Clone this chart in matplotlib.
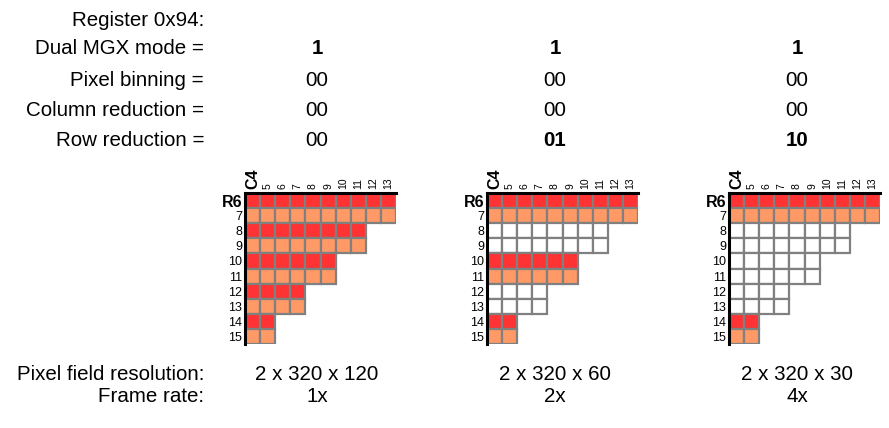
import matplotlib
matplotlib.use("Agg")
import matplotlib.pyplot as plt
from matplotlib.patches import Rectangle

plt.rcParams['font.family'] = ['Liberation Sans', 'DejaVu Sans']

# ---- data ----
row_labels = ["Register 0x94:", "Dual MGX mode =", "Pixel binning =",
              "Column reduction =", "Row reduction ="]
dual_mgx = ["1", "1", "1"]
pixel_binning = ["00", "00", "00"]
column_reduction = ["00", "00", "00"]
row_reduction = ["00", "01", "10"]
row_reduction_bold = [False, True, True]
resolution = ["2 x 320 x 120", "2 x 320 x 60", "2 x 320 x 30"]
frame_rate = ["1x", "2x", "4x"]

grid_rows = [6, 7, 8, 9, 10, 11, 12, 13, 14, 15]
grid_cols = [4, 5, 6, 7, 8, 9, 10, 11, 12, 13]
row_lengths = [10, 10, 8, 8, 6, 6, 4, 4, 2, 2]
# rows read out (True) per panel
active_rows = [
    [True] * 10,
    [True, True, False, False, True, True, False, False, True, True],
    [True, True, False, False, False, False, False, False, True, True],
]

RED = "#FF3333"
ORANGE = "#FF9966"
EDGE = "#808080"

W, H = 889, 428
fig = plt.figure(figsize=(W / 100, H / 100), dpi=100)

def fx(px):
    return px / W

def fy(py):
    return 1 - py / H

FS = 14.8
label_x = 204
text_y = [20, 49, 80, 111, 141]
value_x = [317, 555, 797]

for lbl, ty in zip(row_labels, text_y):
    fig.text(fx(label_x), fy(ty), lbl, ha="right", va="center", fontsize=FS)

for i in range(3):
    fig.text(fx(value_x[i]), fy(text_y[1]), dual_mgx[i], ha="center", va="center",
             fontsize=FS, fontweight="bold")
    fig.text(fx(value_x[i]), fy(text_y[2]), pixel_binning[i], ha="center", va="center",
             fontsize=FS)
    fig.text(fx(value_x[i]), fy(text_y[3]), column_reduction[i], ha="center", va="center",
             fontsize=FS)
    fig.text(fx(value_x[i]), fy(text_y[4]), row_reduction[i], ha="center", va="center",
             fontsize=FS, fontweight="bold" if row_reduction_bold[i] else "normal")

fig.text(fx(label_x), fy(374), "Pixel field resolution:", ha="right", va="center", fontsize=FS)
fig.text(fx(label_x), fy(397), "Frame rate:", ha="right", va="center", fontsize=FS)
for i in range(3):
    fig.text(fx(value_x[i]), fy(374), resolution[i], ha="center", va="center", fontsize=FS)
    fig.text(fx(value_x[i]), fy(397), frame_rate[i], ha="center", va="center", fontsize=FS)

grid_left = [245, 487, 729]
grid_top = 193
cell = 15.1
ncols = len(grid_cols)
nrows = len(grid_rows)

for p in range(3):
    ax = fig.add_axes([fx(grid_left[p]), fy(grid_top + cell * nrows),
                       fx(cell * ncols), (cell * nrows) / H])
    c0 = grid_cols[0]
    r0 = grid_rows[0]
    ax.set_xlim(c0, c0 + ncols)
    ax.set_ylim(r0 + nrows, r0)
    for ri, r in enumerate(grid_rows):
        if active_rows[p][ri]:
            fc = RED if r % 2 == 0 else ORANGE
        else:
            fc = "white"
        for ci in range(row_lengths[ri]):
            c = grid_cols[ci]
            ax.add_patch(Rectangle((c, r), 1, 1, facecolor=fc, edgecolor=EDGE,
                                   linewidth=1.6, zorder=2))
    for s in ["right", "bottom"]:
        ax.spines[s].set_visible(False)
    for s in ["top", "left"]:
        ax.spines[s].set_linewidth(2.2)
        ax.spines[s].set_color("black")
        ax.spines[s].set_zorder(5)
    ax.patch.set_alpha(0)
    ax.xaxis.tick_top()
    ax.set_xticks([c + 0.5 for c in grid_cols])
    ax.set_xticklabels(["C%d" % grid_cols[0]] + [str(c) for c in grid_cols[1:]],
                       rotation=90, fontsize=7.5)
    ax.set_yticks([r + 0.5 for r in grid_rows])
    ax.set_yticklabels(["R%d" % grid_rows[0]] + [str(r) for r in grid_rows[1:]],
                       fontsize=9)
    ax.tick_params(axis="x", length=0, pad=3)
    ax.tick_params(axis="y", length=0, pad=2)
    xl = ax.get_xticklabels()[0]
    xl.set_fontweight("bold")
    xl.set_fontsize(11.5)
    yl = ax.get_yticklabels()[0]
    yl.set_fontweight("bold")
    yl.set_fontsize(11.5)

fig.savefig("out.png", dpi=100)
